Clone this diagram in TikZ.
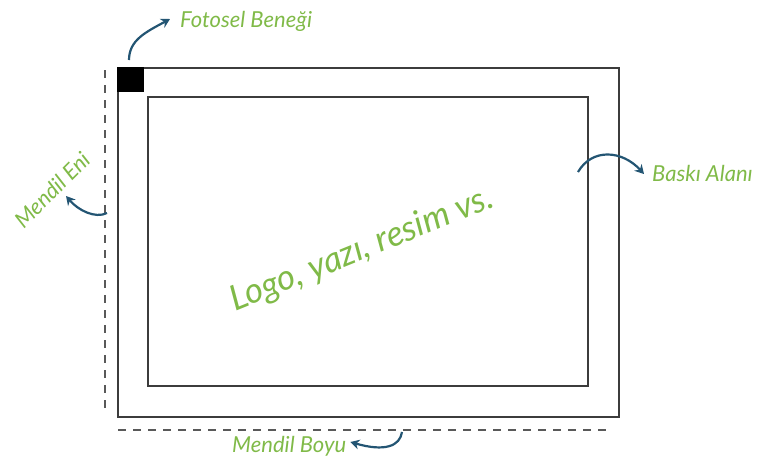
\documentclass[tikz,border=0pt]{standalone}
\usepackage{fontspec}
\setmainfont{Lato}
\usetikzlibrary{arrows.meta}
\definecolor{lblgreen}{RGB}{128,186,72}
\definecolor{arrblue}{RGB}{35,85,115}
\definecolor{framecol}{RGB}{60,60,60}
\begin{document}
\begin{tikzpicture}[x=1pt,y=-1pt,
  lbl/.style={text=lblgreen, font=\fontsize{22}{22}\selectfont\itshape, inner sep=0pt},
  bigl/.style={text=lblgreen, font=\fontsize{35}{35}\selectfont\itshape, inner sep=0pt},
  curv/.style={draw=arrblue, line width=2.2pt, -{Stealth[length=9pt,width=10pt]}},
  frm/.style={draw=framecol, line width=1.8pt, inner sep=0pt, anchor=north west},
  dsh/.style={draw=gray!70!black, line width=1.6pt, dash pattern=on 8pt off 7pt}]
\useasboundingbox (0,0) rectangle (780,464);
% frames
\node[frm, minimum width=501pt, minimum height=349pt] (outer) at (117,67) {};
\node[frm, minimum width=440pt, minimum height=289pt] (inner) at (147,96) {};
\node[fill=black, draw=black, inner sep=0pt, anchor=north west, minimum width=26pt, minimum height=24pt] (sensor) at (117,67) {};
% dashed dimension lines
\coordinate (enitop) at (105,70);
\coordinate (enibot) at (105,412);
\coordinate (boyl) at (118,430);
\coordinate (boyr) at (612,430);
\draw[dsh] (enitop) -- (enibot);
\draw[dsh] (boyl) -- (boyr);
% labels
\node[lbl, anchor=west] (fotosel) at (180,21) {Fotosel Beneği};
\node[lbl, rotate=45] (eni) at (52,190) {Mendil Eni};
\node[lbl, anchor=west] (baski) at (652,173) {Baskı Alanı};
\node[lbl, anchor=west] (boyu) at (232,446) {Mendil Boyu};
\node[bigl, rotate=22] (main) at (362,250) {Logo, yazı, resim vs.};
% arrows
\coordinate (fs) at (129,60);
\coordinate (es) at (107,213);
\coordinate (bs) at (578,172);
\coordinate (ms) at (402,432);
\draw[curv] (fs) .. controls (129,40) and (146,32) .. ([xshift=-10pt,yshift=2pt]fotosel.west);
\draw[curv] (es) .. controls (95,219) and (78,210) .. (66,196);
\draw[curv] (bs) .. controls (592,148) and (622,150) .. ([xshift=-8pt,yshift=-1pt]baski.west);
\draw[curv] (ms) .. controls (400,446) and (385,452) .. ([xshift=4pt,yshift=4pt]boyu.east);
\end{tikzpicture}
\end{document}
